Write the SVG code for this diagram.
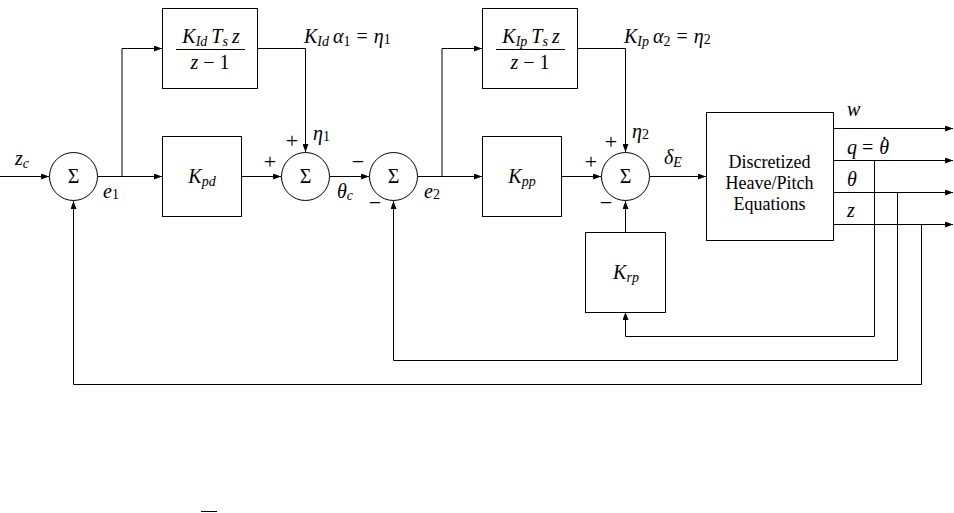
<svg xmlns="http://www.w3.org/2000/svg" width="954" height="513" viewBox="0 0 954 513">
<style>
.bg{fill:#fff}
.blk{fill:#fff;stroke:#000;stroke-width:1}
.w{fill:none;stroke:#000;stroke-width:1}
.m{font-family:"Liberation Serif","DejaVu Serif",serif;font-style:italic;font-size:20px;fill:#000}
.r{font-family:"Liberation Serif","DejaVu Serif",serif;font-style:normal;font-size:20px;fill:#000}
.pm{font-family:"Liberation Serif","DejaVu Serif",serif;font-style:normal;font-size:22px;fill:#000;text-anchor:middle}
.s{font-size:14px}
.up{font-style:normal}
.c{text-anchor:middle}
.t{font-family:"Liberation Serif","DejaVu Serif",serif;font-size:18px;fill:#000;text-anchor:middle}
</style>
<defs>
<marker id="a" markerUnits="userSpaceOnUse" markerWidth="8" markerHeight="6" refX="8" refY="3" orient="auto">
<path d="M0,0 L8,3 L0,6 z" fill="#000"/>
</marker>
</defs>
<rect class="bg" x="0" y="0" width="954" height="513"/>

<g id="connectors" class="w" marker-end="url(#a)">
<path d="M0,176.5 H49"/>
<path d="M97,176.5 H162"/>
<path d="M122,176.5 V48.5 H162"/>
<path d="M257,48.5 H305.5 V152"/>
<path d="M241,176.5 H281"/>
<path d="M329,176.5 H369"/>
<path d="M417,176.5 H482"/>
<path d="M442,176.5 V48.5 H482"/>
<path d="M577,48.5 H625.5 V152"/>
<path d="M561,176.5 H601"/>
<path d="M649,176.5 H706"/>
<path d="M833,128.5 H953"/>
<path d="M833,160.5 H953"/>
<path d="M833,192.5 H953"/>
<path d="M833,224.5 H953"/>
<path d="M625.5,232 V201"/>
<path d="M874.5,160.5 V336.5 H625.5 V312"/>
<path d="M897.5,192.5 V360.5 H393.5 V201"/>
<path d="M921.5,224.5 V384.5 H73.5 V201"/>
</g>

<g id="sum1">
<circle class="blk" cx="73.5" cy="176.5" r="24"/>
<text class="r c" x="73.5" y="183">Σ</text>
</g>
<g id="sum2">
<circle class="blk" cx="305.5" cy="176.5" r="24"/>
<text class="r c" x="305.5" y="183">Σ</text>
</g>
<g id="sum3">
<circle class="blk" cx="393.5" cy="176.5" r="24"/>
<text class="r c" x="393.5" y="183">Σ</text>
</g>
<g id="sum4">
<circle class="blk" cx="625.5" cy="176.5" r="24"/>
<text class="r c" x="625.5" y="183">Σ</text>
</g>

<g id="int1">
<rect class="blk" x="162.5" y="8.5" width="95" height="80"/>
<text class="m c" x="211" y="43">K<tspan class="s" dy="3">Id</tspan><tspan dy="-3" dx="4">T</tspan><tspan class="s" dy="3">s</tspan><tspan dy="-3" dx="4">z</tspan></text>
<line class="w" x1="176" y1="49.5" x2="245" y2="49.5"/>
<text class="m c" x="210" y="69">z<tspan class="up" dx="5">−</tspan><tspan class="up" dx="5">1</tspan></text>
</g>
<g id="kpd">
<rect class="blk" x="162.5" y="136.5" width="79" height="80"/>
<text class="m c" x="202" y="183">K<tspan class="s" dy="3">pd</tspan></text>
</g>
<g id="int2">
<rect class="blk" x="482.5" y="8.5" width="95" height="80"/>
<text class="m c" x="531" y="43">K<tspan class="s" dy="3">Ip</tspan><tspan dy="-3" dx="4">T</tspan><tspan class="s" dy="3">s</tspan><tspan dy="-3" dx="4">z</tspan></text>
<line class="w" x1="496" y1="49.5" x2="565" y2="49.5"/>
<text class="m c" x="530" y="69">z<tspan class="up" dx="5">−</tspan><tspan class="up" dx="5">1</tspan></text>
</g>
<g id="kpp">
<rect class="blk" x="482.5" y="136.5" width="79" height="80"/>
<text class="m c" x="522" y="183">K<tspan class="s" dy="3">pp</tspan></text>
</g>
<g id="krp">
<rect class="blk" x="585.5" y="232.5" width="80" height="80"/>
<text class="m c" x="626" y="279">K<tspan class="s" dy="3">rp</tspan></text>
</g>
<g id="plant">
<rect class="blk" x="706.5" y="112.5" width="127" height="128"/>
<text class="t" x="769.5" y="168">Discretized</text>
<text class="t" x="769.5" y="189">Heave/Pitch</text>
<text class="t" x="769.5" y="210">Equations</text>
</g>

<g id="labels">
<text class="m" x="15" y="165">z<tspan class="s" dy="3">c</tspan></text>
<text class="m" x="103" y="198">e<tspan class="s up" dy="1">1</tspan></text>
<text class="m" x="304" y="43">K<tspan class="s" dy="3">Id</tspan><tspan dy="-3" dx="4">α</tspan><tspan class="s up" dy="3">1</tspan><tspan class="up" dy="-3" dx="6">=</tspan><tspan dx="6">η</tspan><tspan class="s up" dy="1">1</tspan></text>
<text class="pm" x="270" y="169">+</text>
<text class="pm" x="292" y="148">+</text>
<text class="m" x="313" y="140">η<tspan class="s up" dy="1">1</tspan></text>
<text class="m" x="337" y="198">θ<tspan class="s" dy="2">c</tspan></text>
<text class="pm" x="358" y="169">−</text>
<text class="pm" x="375" y="210">−</text>
<text class="m" x="424" y="198">e<tspan class="s up" dy="1">2</tspan></text>
<text class="m" x="624" y="43">K<tspan class="s" dy="3">Ip</tspan><tspan dy="-3" dx="4">α</tspan><tspan class="s up" dy="3">2</tspan><tspan class="up" dy="-3" dx="6">=</tspan><tspan dx="6">η</tspan><tspan class="s up" dy="1">2</tspan></text>
<text class="pm" x="591" y="169">+</text>
<text class="pm" x="611" y="149">+</text>
<text class="m" x="632" y="138">η<tspan class="s up" dy="1">2</tspan></text>
<text class="pm" x="606" y="210">−</text>
<text class="m" x="664" y="164">δ<tspan class="s" dy="3">E</tspan></text>
<text class="m" x="847" y="116">w</text>
<text class="m" x="847" y="154">q<tspan class="up" dx="5">=</tspan><tspan dx="6">θ</tspan><tspan class="up" x="881" y="151">˙</tspan></text>
<text class="m" x="847" y="186">θ</text>
<text class="m" x="847" y="217">z</text>
</g>
<line class="w" x1="201" y1="511.5" x2="217" y2="511.5" stroke-width="1.5"/>
</svg>
